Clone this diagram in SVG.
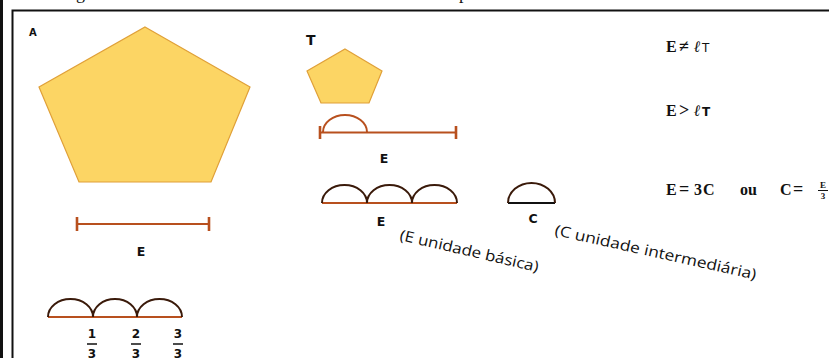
<svg xmlns="http://www.w3.org/2000/svg" width="829" height="358" viewBox="0 0 829 358">
  <style>
    .frame { fill: none; stroke: #111; stroke-width: 2; }
    .poly { fill: #FCD564; stroke: #E0A038; stroke-width: 1.2; }
    .seg { fill: none; stroke: #B8501E; stroke-width: 2; }
    .tick { fill: none; stroke: #B8501E; stroke-width: 2.6; }
    .arc { fill: none; stroke: #3A1A0A; stroke-width: 2; }
    .lbl { font-family: "DejaVu Sans", Verdana, sans-serif; font-weight: bold; fill: #111; }
    .math { font-family: "Liberation Serif", "DejaVu Serif", serif; font-weight: bold; fill: #111; }
    .sub { font-family: "DejaVu Sans", sans-serif; fill: #111; }
    .note { font-family: "Open Sans", "Liberation Sans", sans-serif; fill: #111; }
    .cut { font-family: "Liberation Serif", serif; fill: #111; }
  </style>

  <rect x="0" y="0" width="829" height="358" fill="#fff"/>

  <!-- caption line above the frame, only its descenders fall inside -->
  <text class="cut" x="76" y="-1" font-size="18">g</text>
  <text class="cut" x="459" y="-1" font-size="18">p</text>

  <!-- frame -->
  <g id="frame">
    <rect x="0" y="0" width="3" height="358" fill="#111"/>
    <path class="frame" d="M12.5,358 V10.5 H829"/>
  </g>

  <!-- large pentagon A -->
  <g id="pentagon-a">
    <text class="lbl" x="29" y="36" font-size="10">A</text>
    <polygon class="poly" points="145,27 250,87 211,182 79,182 39,87"/>
  </g>

  <!-- small pentagon T -->
  <g id="pentagon-t">
    <text class="lbl" x="306" y="45" font-size="14">T</text>
    <polygon class="poly" points="345,49 382,71 369,103 321,103 307,71"/>
  </g>

  <!-- side of T measured with E -->
  <g id="measure-t">
    <path class="seg" d="M320,132.5 H456"/>
    <path class="tick" d="M320,126 V139 M456,126 V139"/>
    <path class="seg" d="M323,132 A22,17 0 0 1 367,132"/>
    <text class="lbl" x="384" y="163" font-size="12.5" text-anchor="middle">E</text>
  </g>

  <!-- E split into three arcs -->
  <g id="e-three-arcs">
    <path class="seg" d="M322,203 H457"/>
    <path class="arc" d="M322,203 A22.5,18 0 0 1 367,203 A22.5,18 0 0 1 412,203 A22.5,18 0 0 1 457,203"/>
    <text class="lbl" x="381" y="226" font-size="12.5" text-anchor="middle">E</text>
    <text class="note" font-size="15" textLength="142" lengthAdjust="spacingAndGlyphs" transform="translate(399,240) rotate(13)">(E unidade básica)</text>
  </g>

  <!-- single arc C -->
  <g id="c-arc">
    <path d="M508,203 H555" fill="none" stroke="#111" stroke-width="2"/>
    <path class="arc" d="M508,203 A23.5,20 0 0 1 555,203"/>
    <text class="lbl" x="533" y="223" font-size="12.5" text-anchor="middle">C</text>
    <text class="note" font-size="15" textLength="206" lengthAdjust="spacingAndGlyphs" transform="translate(554,235) rotate(12.5)">(C unidade intermediária)</text>
  </g>

  <!-- relations -->
  <g id="relations">
    <g class="math" font-size="16">
      <text x="666" y="52">E</text>
      <text x="679" y="52" font-size="18">≠</text>
      <text x="694" y="52" font-style="italic">ℓ</text>
      <text x="666" y="116">E</text>
      <text x="679" y="116" font-size="18">&gt;</text>
      <text x="694" y="116" font-style="italic">ℓ</text>
      <text x="666" y="195">E</text>
      <text x="679" y="195" font-size="18">=</text>
      <text x="694" y="195">3</text>
      <text x="703" y="195">C</text>
      <text x="740" y="195">ou</text>
      <text x="780" y="195">C</text>
      <text x="793" y="195" font-size="18">=</text>
    </g>
    <text class="sub" x="702" y="52" font-size="12">T</text>
    <text class="sub" x="702" y="116" font-size="12" font-weight="bold">T</text>
    <text class="math" x="823" y="188" font-size="9" text-anchor="middle">E</text>
    <path d="M818,190.5 H828" stroke="#111" stroke-width="1"/>
    <text class="math" x="823" y="199" font-size="9" text-anchor="middle">3</text>
  </g>

  <!-- side of A measured with E -->
  <g id="measure-a">
    <path class="seg" d="M77,224 H209"/>
    <path class="tick" d="M77,217 V231 M209,217 V231"/>
    <text class="lbl" x="141" y="256" font-size="12.5" text-anchor="middle">E</text>
  </g>

  <!-- thirds of E -->
  <g id="thirds">
    <path class="seg" d="M48,317 H182"/>
    <path class="arc" d="M48,317 A22.5,18 0 0 1 93,317 A22,18 0 0 1 137,317 A22.5,18 0 0 1 182,317"/>
    <g class="lbl" font-size="12" text-anchor="middle">
      <text x="92" y="338">1</text>
      <text x="92" y="358">3</text>
      <text x="136" y="338">2</text>
      <text x="136" y="358">3</text>
      <text x="178" y="338">3</text>
      <text x="178" y="358">3</text>
    </g>
    <path d="M87,344 H97 M131,344 H141 M173,344 H183" stroke="#111" stroke-width="1.5"/>
  </g>
</svg>
